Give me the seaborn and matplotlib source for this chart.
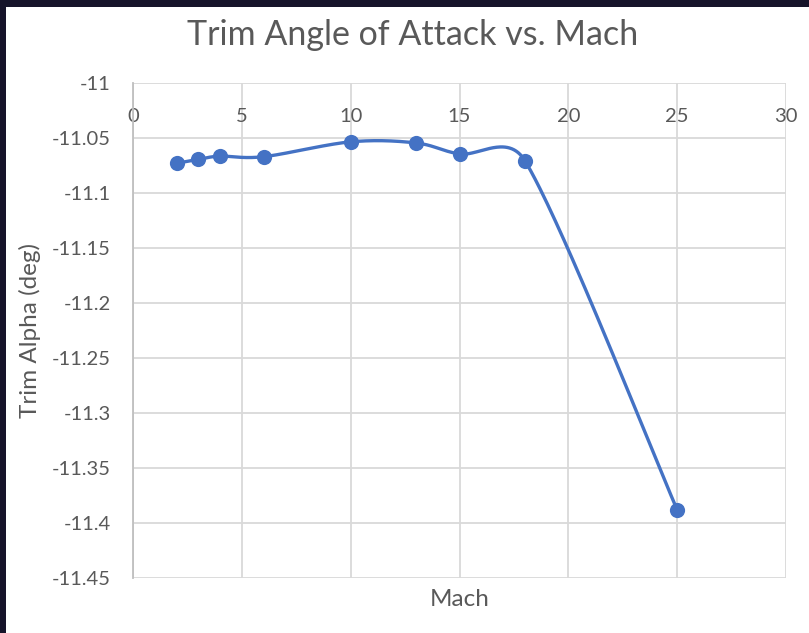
import numpy as np
import pandas as pd
import matplotlib.pyplot as plt
import seaborn as sns
from matplotlib.patches import Rectangle

# values
mach = [2, 3, 4, 6, 10, 13, 15, 18, 25]
trim_alpha = [-11.073, -11.0695, -11.0665, -11.067, -11.0535, -11.0545, -11.0645, -11.0705, -11.388]
x_ticks = [0, 5, 10, 15, 20, 25, 30]
y_ticks = [-11, -11.05, -11.1, -11.15, -11.2, -11.25, -11.3, -11.35, -11.4, -11.45]

sns.set_theme(style="white")
plt.rcParams['font.family'] = ['Lato', 'DejaVu Sans']

grey = '#595959'
blue = '#4472C4'

fig = plt.figure(figsize=(8.09, 6.33), dpi=100, facecolor='white')
# dark frame strips along the left and top edges
fig.patches.append(Rectangle((0, 0), 6 / 809, 1, transform=fig.transFigure,
                             facecolor='#16142a', edgecolor='none', zorder=-10))
fig.patches.append(Rectangle((0, 1 - 7 / 633), 1, 7 / 633, transform=fig.transFigure,
                             facecolor='#16142a', edgecolor='none', zorder=-10))
ax = fig.add_axes([133 / 809, 55 / 633, 653 / 809, 495 / 633])

xmin, xmax, ymin, ymax = 0, 30, -11.45, -11.0


# Excel-like smoothed line: Catmull-Rom style bezier in pixel space,
# control arms clamped to half the segment length
def smooth_curve(xs, ys, n=60):
    sx = 653 / (xmax - xmin)
    sy = 495 / (ymax - ymin)
    pts = np.column_stack([np.asarray(xs) * sx, np.asarray(ys) * sy])
    out = []
    m = len(pts)
    for i in range(m - 1):
        p0 = pts[max(i - 1, 0)]
        p1 = pts[i]
        p2 = pts[i + 1]
        p3 = pts[min(i + 2, m - 1)]
        seg = np.linalg.norm(p2 - p1)
        c1 = (p2 - p0) / 6
        c2 = (p3 - p1) / 6
        for c in (c1, c2):
            ln = np.linalg.norm(c)
            if ln > 0.5 * seg:
                c *= 0.5 * seg / ln
        b1 = p1 + c1
        b2 = p2 - c2
        t = np.linspace(0, 1, n)[:, None]
        seg_pts = ((1 - t) ** 3) * p1 + 3 * ((1 - t) ** 2) * t * b1 + 3 * (1 - t) * t ** 2 * b2 + t ** 3 * p2
        out.append(seg_pts if i == 0 else seg_pts[1:])
    out = np.vstack(out)
    return out[:, 0] / sx, out[:, 1] / sy


cx, cy = smooth_curve(mach, trim_alpha)
curve = pd.DataFrame({'x': cx, 'y': cy})
df = pd.DataFrame({'Mach': mach, 'Trim Alpha': trim_alpha})

sns.lineplot(data=curve, x='x', y='y', sort=False, color=blue, linewidth=2.4, ax=ax, zorder=3)
sns.scatterplot(data=df, x='Mach', y='Trim Alpha', color=blue, s=120, edgecolor=blue,
                linewidth=0, ax=ax, zorder=4)

ax.set_xlim(xmin, xmax)
ax.set_ylim(ymin, ymax)
ax.set_xticks(x_ticks)
ax.set_yticks(y_ticks)
ax.set_yticklabels([f'{v:g}' for v in y_ticks])
ax.grid(True, color='#d9d9d9', linewidth=1.3)
ax.set_axisbelow(True)

ax.xaxis.set_ticks_position('top')
ax.tick_params(axis='x', top=False, bottom=False, labeltop=True, labelbottom=False,
               length=0, pad=-30, labelsize=14.5, labelcolor=grey)
ax.tick_params(axis='y', length=0, pad=16, labelsize=14.5, labelcolor=grey)

for side in ['top', 'right', 'bottom']:
    ax.spines[side].set_visible(False)
ax.spines['left'].set_color('#bfbfbf')
ax.spines['left'].set_linewidth(1.3)

ax.set_xlabel('')
ax.set_ylabel('')

fig.text(413 / 809, 1 - 45 / 633, 'Trim Angle of Attack vs. Mach', ha='center', va='baseline',
         fontsize=24.5, color=grey)
fig.text(460 / 809, 1 - 600 / 633, 'Mach', ha='center', va='center', fontsize=17.5, color=grey)
fig.text(30 / 809, 1 - 330 / 633, 'Trim Alpha (deg)', ha='center', va='center',
         rotation=90, fontsize=17.5, color=grey)

fig.savefig('out.png', dpi=100)
